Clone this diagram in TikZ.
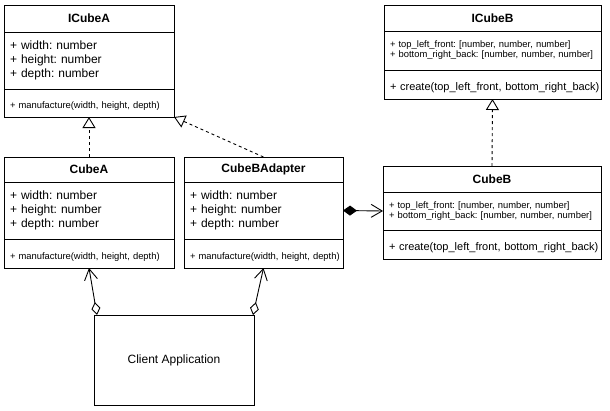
\documentclass[tikz,border=0pt]{standalone}
\usepackage{fontspec}
\setmainfont{Liberation Sans}
\usetikzlibrary{positioning,arrows.meta}

\begin{document}
\begin{tikzpicture}[x=1pt, y=-1pt, line width=0.9pt,
    every node/.style={execute at begin node=\frenchspacing},
    head/.style={draw, outer sep=0pt, inner sep=0pt, anchor=north west,
      font=\fontsize{12}{14}\selectfont\bfseries},
    part/.style={draw, outer sep=0pt, inner xsep=6pt, inner ysep=0pt, align=left},
    ops/.style={part, text height=13pt, text depth=2pt},
    big/.style={font=\fontsize{12}{14}\selectfont},
    small/.style={font=\fontsize{9.4}{10}\selectfont},
    mid/.style={font=\fontsize{11}{13}\selectfont},
    realize/.style={dash pattern=on 3pt off 3pt, -{Triangle[open, length=11pt, width=13pt, fill=white]}},
    uses/.style={{Diamond[open, length=13pt, width=9pt]}-{Straight Barb[length=11pt, width=13pt]}}]
  \useasboundingbox (0,0) rectangle (610,410);

  % interface A
  \node[head, minimum width=170pt, minimum height=27pt] (icubea) at (4,5) {ICubeA};
  \node[part, big, text width=158pt, minimum height=57pt, below=0pt of icubea] (icubeaattrs)
    {+ width: number\\+ height: number\\+ depth: number};
  \node[ops, small, text width=158pt, minimum height=28pt, below=0pt of icubeaattrs] (icubeaops)
    {\mbox{+ manufacture(width, height, depth)}};

  % interface B
  \node[head, minimum width=217pt, minimum height=26pt] (icubeb) at (384,5) {ICubeB};
  \node[part, small, text width=205pt, minimum height=39pt, below=0pt of icubeb] (icubebattrs)
    {+ top\_left\_front: [number, number, number]\\+ bottom\_right\_back: [number, number, number]};
  \node[ops, mid, text width=205pt, minimum height=29pt, below=0pt of icubebattrs] (icubebops)
    {\mbox{+ create(top\_left\_front, bottom\_right\_back)}};

  % CubeA
  \node[head, minimum width=170pt, minimum height=25pt] (cubea) at (4,157) {CubeA};
  \node[part, big, text width=158pt, minimum height=57pt, below=0pt of cubea] (cubeaattrs)
    {+ width: number\\+ height: number\\+ depth: number};
  \node[ops, small, text width=158pt, minimum height=29pt, below=0pt of cubeaattrs] (cubeaops)
    {\mbox{+ manufacture(width, height, depth)}};

  % adapter
  \node[head, minimum width=159pt, minimum height=25pt] (adapter) at (184,157) {CubeBAdapter};
  \node[part, big, text width=147pt, minimum height=57pt, below=0pt of adapter] (adapterattrs)
    {+ width: number\\+ height: number\\+ depth: number};
  \node[ops, small, text width=147pt, minimum height=29pt, below=0pt of adapterattrs] (adapterops)
    {\mbox{+ manufacture(width, height, depth)}};

  % CubeB
  \node[head, minimum width=218pt, minimum height=26pt] (cubeb) at (383,166) {CubeB};
  \node[part, small, text width=206pt, minimum height=38pt, below=0pt of cubeb] (cubebattrs)
    {+ top\_left\_front: [number, number, number]\\+ bottom\_right\_back: [number, number, number]};
  \node[ops, mid, text width=206pt, minimum height=29pt, below=0pt of cubebattrs] (cubebops)
    {\mbox{+ create(top\_left\_front, bottom\_right\_back)}};

  % client
  \node[draw, outer sep=0pt, anchor=north west, minimum width=160pt, minimum height=90pt, big] (client)
    at (94,315) {Client Application};
  \coordinate (clienta) at ([xshift=3pt]client.north west);
  \coordinate (clientb) at ([xshift=-1pt]client.north east);

  \draw[realize] (cubea.north) -- (icubeaops.south);
  \draw[realize] (adapter.north) -- (icubeaops.south east);
  \draw[realize] (cubeb.north) -- (icubebops.south);
  \draw[{Diamond[length=14pt, width=10pt]}-{Straight Barb[length=11pt, width=13pt]}]
    (adapterattrs.east) -- (cubebattrs.west);
  \draw[uses] (clienta) -- (cubeaops.south);
  \draw[uses] (clientb) -- (adapterops.south);
\end{tikzpicture}
\end{document}
